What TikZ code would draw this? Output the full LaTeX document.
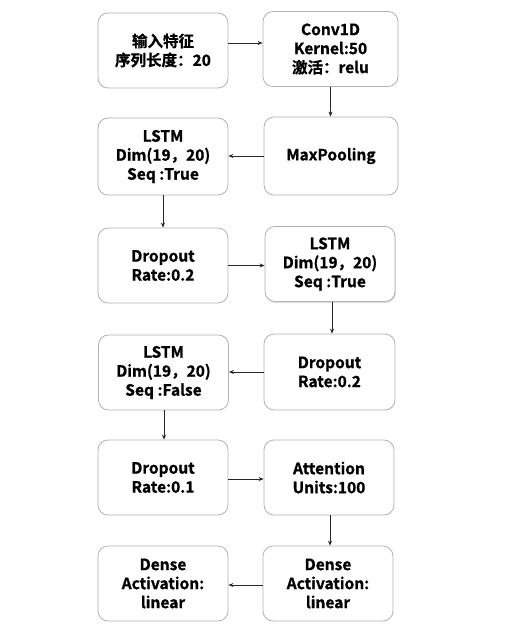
\documentclass[tikz,border=0pt]{standalone}
\usepackage{fontspec}
\setmainfont{Noto Sans CJK SC Bold}[FakeBold=0.9]
\usetikzlibrary{arrows.meta,shadows}
\begin{document}
\begin{tikzpicture}[x=1pt,y=-1pt,
  blk/.style={draw=black!30,line width=0.8pt,rounded corners=10pt,minimum width=130pt,minimum height=75pt,
    align=center,font=\fontsize{15.5}{19}\selectfont,fill=white,inner sep=0pt},
  arr/.style={draw=black!85,line width=0.8pt,-{Stealth[length=5pt,width=4pt]}}]
\useasboundingbox (0,0) rectangle (517,640);
\node[blk] (in) at (163,50.5) {输入特征\\序列长度：20};
\node[blk,minimum width=135pt] (conv) at (330.5,49) {Conv1D\\Kernel:50\\激活：relu};
\node[blk,minimum height=77pt] (l1) at (163,156.5) {LSTM\\Dim(19，20)\\Seq :True};
\node[blk,minimum width=134pt,minimum height=78pt] (mp) at (331,156) {MaxPooling};
\node[blk] (d1) at (163,265.5) {Dropout\\Rate:0.2};
\node[blk,drop shadow={shadow xshift=1pt,shadow yshift=-1.5pt,opacity=0.25}] (l2) at (330,264) {LSTM\\Dim(19，20)\\Seq :True};
\node[blk] (l3) at (163.5,372.5) {LSTM\\Dim(19，20)\\Seq :False};
\node[blk,minimum width=131pt,minimum height=76pt] (d2) at (329.5,372) {Dropout\\Rate:0.2};
\node[blk] (d3) at (163,477.5) {Dropout\\Rate:0.1};
\node[blk] (att) at (329,477.5) {Attention\\Units:100};
\node[blk] (de2) at (163,583.5) {Dense\\Activation:\\linear};
\node[blk] (de1) at (328,583.5) {Dense\\Activation:\\linear};
\draw[arr] (in.east |- 0,43) -- (conv.west |- 0,43);
\draw[arr] (conv.south -| 330.5,0) -- (mp.north -| 330.5,0);
\draw[arr] (mp.west) -- (l1.east |- mp.west);
\draw[arr] (l1.south) -- (d1.north);
\draw[arr] (d1.east) -- (l2.west |- d1.east);
\draw[arr] (l2.south -| 332,0) -- (d2.north -| 332,0);
\draw[arr] (d2.west) -- (l3.east |- d2.west);
\draw[arr] (l3.south -| 164,0) -- (d3.north -| 164,0);
\draw[arr] (d3.east |- 0,479) -- (att.west |- 0,479);
\draw[arr] (att.south -| 330,0) -- (de1.north -| 330,0);
\draw[arr] (de1.west |- 0,585) -- (de2.east |- 0,585);
\end{tikzpicture}
\end{document}
